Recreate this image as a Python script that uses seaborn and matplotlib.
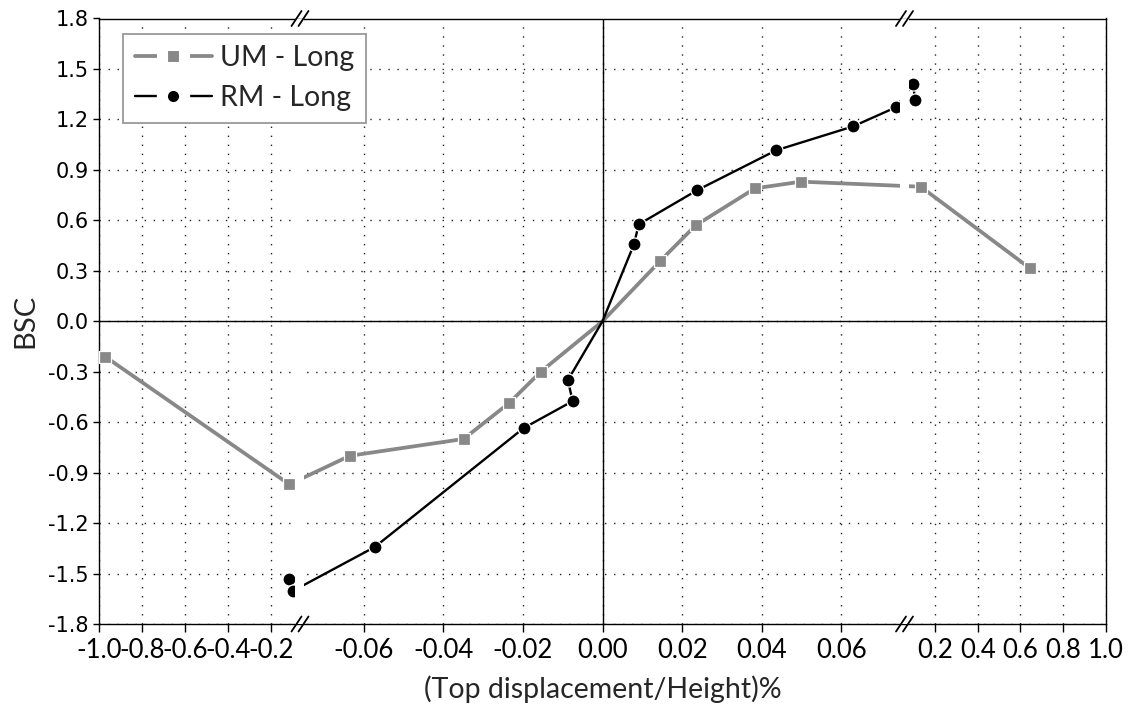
import numpy as np
import matplotlib
matplotlib.use("Agg")
import matplotlib.pyplot as plt
from matplotlib import font_manager
from matplotlib.ticker import FixedLocator, FixedFormatter
import seaborn as sns

# ---- data -------------------------------------------------------------
# UM - Long envelope (drift ratio %, BSC)
um_drift = [-0.973, -0.121, -0.0635, -0.0349, -0.0235, -0.0155, 0.0,
            0.0144, 0.0234, 0.0383, 0.0499, 0.141, 0.645]
um_bsc = [-0.21, -0.97, -0.80, -0.70, -0.487, -0.30, 0.0,
          0.356, 0.57, 0.79, 0.83, 0.80, 0.315]

# RM - Long envelope
rm_drift = [-0.1226, -0.107, -0.0572, -0.0198, -0.0075, -0.0087, 0.0,
            0.0079, 0.0091, 0.0237, 0.0436, 0.0629, 0.0738, 0.110, 0.117]
rm_bsc = [-1.533, -1.604, -1.342, -0.635, -0.475, -0.35, 0.0,
          0.457, 0.576, 0.778, 1.016, 1.158, 1.273, 1.412, 1.317]

x_ticks = [-1.0, -0.8, -0.6, -0.4, -0.2,
           -0.06, -0.04, -0.02, 0.0, 0.02, 0.04, 0.06,
           0.2, 0.4, 0.6, 0.8, 1.0]
x_tick_labels = ["-1.0", "-0.8", "-0.6", "-0.4", "-0.2",
                 "-0.06", "-0.04", "-0.02", "0.00", "0.02", "0.04", "0.06",
                 "0.2", "0.4", "0.6", "0.8", "1.0"]
y_ticks = [-1.8, -1.5, -1.2, -0.9, -0.6, -0.3, 0.0, 0.3, 0.6, 0.9, 1.2, 1.5, 1.8]
y_tick_labels = ["-1.8", "-1.5", "-1.2", "-0.9", "-0.6", "-0.3", "0.0",
                 "0.3", "0.6", "0.9", "1.2", "1.5", "1.8"]

# ---- broken x axis: piecewise-linear scale --------------------------
# knots of the scale (data value -> distance along the axis, in px)
seg_data = [-1.0, -0.2, -0.076, 0.076, 0.2, 1.0]
seg_span = [0.0, 171.4, 200.7, 805.7, 835.7, 1006.4]
break_span = [200.7, 805.2]


def fwd(x):
    return np.interp(np.asarray(x, dtype=float), seg_data, seg_span)


def inv(u):
    return np.interp(np.asarray(u, dtype=float), seg_span, seg_data)


# ---- style -----------------------------------------------------------
sns.set_style("white")
names = {f.name for f in font_manager.fontManager.ttflist}
main_font = next((n for n in ["Lato", "Open Sans", "Noto Sans"] if n in names),
                 "DejaVu Sans")
plt.rcParams["font.family"] = [main_font, "DejaVu Sans"]
plt.rcParams["axes.unicode_minus"] = False

GRAY = "#888888"

W, H = 1132, 711
fig = plt.figure(figsize=(W / 100, H / 100), dpi=100)
ax_w, ax_h = seg_span[-1], 605.5
ax = fig.add_axes([99.3 / W, 87 / H, ax_w / W, ax_h / H])
ax.set_xscale("function", functions=(fwd, inv))
ax.set_xlim(-1.0, 1.0)
ax.set_ylim(-1.8, 1.8)

um_marks = [i for i, v in enumerate(um_drift) if v != 0.0]
rm_marks = [i for i, v in enumerate(rm_drift) if v != 0.0]

sns.lineplot(x=um_drift, y=um_bsc, sort=False, estimator=None, ax=ax,
             color=GRAY, linewidth=2.7, marker="s", markersize=8.4,
             markeredgecolor="white", markeredgewidth=0.9, markevery=um_marks,
             label="UM - Long", zorder=3)
sns.lineplot(x=rm_drift, y=rm_bsc, sort=False, estimator=None, ax=ax,
             color="black", linewidth=1.7, marker="o", markersize=9.4,
             markeredgecolor="white", markeredgewidth=0.9, markevery=rm_marks,
             label="RM - Long", zorder=3)

# gaps at the axis breaks
for b in break_span:
    ax.axvspan(inv(b - 5), inv(b + 4.5), color="white", lw=0, zorder=4)

# zero reference lines
ax.axhline(0, color="black", lw=1.0, zorder=4.5)
ax.axvline(0, color="black", lw=1.0, zorder=4.5)

# grid
ax.grid(True, which="major", color="#222222", linestyle=(0, (1, 5.5)), lw=1.0)
ax.set_axisbelow(True)

# ticks
ax.xaxis.set_major_locator(FixedLocator(x_ticks))
ax.xaxis.set_major_formatter(FixedFormatter(x_tick_labels))
ax.xaxis.set_minor_locator(FixedLocator([]))
ax.yaxis.set_major_locator(FixedLocator(y_ticks))
ax.yaxis.set_major_formatter(FixedFormatter(y_tick_labels))
ax.tick_params(axis="x", which="major", bottom=True, top=False, direction="out",
               length=5.8, width=1.0, labelsize=18.5, pad=4, colors="black")
ax.tick_params(axis="y", which="major", left=True, right=False, direction="out",
               length=4.3, width=1.0, labelsize=15, pad=3.5, colors="black")
for t in ax.get_yticklabels():
    t.set_fontfamily("DejaVu Sans")

for s in ax.spines.values():
    s.set_visible(True)
    s.set_color("black")
    s.set_linewidth(1.0)

# break marks on top and bottom spines
for b in break_span:
    xc = b / ax_w
    for off in (-3.5, 3.5):
        for yc in (0.0, 1.0):
            x0 = xc + (off - 5) / ax_w
            x1 = xc + (off + 5) / ax_w
            y0 = yc - 7.5 / ax_h
            y1 = yc + 7.5 / ax_h
            ax.plot([x0, x1], [y0, y1], transform=ax.transAxes, color="black",
                    lw=1.3, clip_on=False, zorder=6)

# labels
ax.set_xlabel("(Top displacement/Height)%", fontsize=20.5)
ax.xaxis.set_label_coords(0.5, -(689 - 624) / ax_h)
ax.xaxis.label.set_va("center")
ax.set_ylabel("BSC", fontsize=21)
ax.yaxis.set_label_coords(-(99.3 - 25) / ax_w, 0.5)
ax.yaxis.label.set_va("center")

# legend
leg = ax.legend(loc="upper left", bbox_to_anchor=(24 / ax_w, 1 - 15 / ax_h),
                borderaxespad=0, frameon=True, fancybox=False, framealpha=1,
                edgecolor="#999999", fontsize=20.5, handlelength=2.7,
                handletextpad=0.3, borderpad=0.4, labelspacing=0.5)
leg.get_frame().set_linewidth(1.3)
leg.set_zorder(7)
for h in leg.legend_handles:
    h.set_markeredgecolor("white")
    h.set_markeredgewidth(8.0)
    h.set_markersize(16.0)

fig.savefig("out.png", dpi=100)
